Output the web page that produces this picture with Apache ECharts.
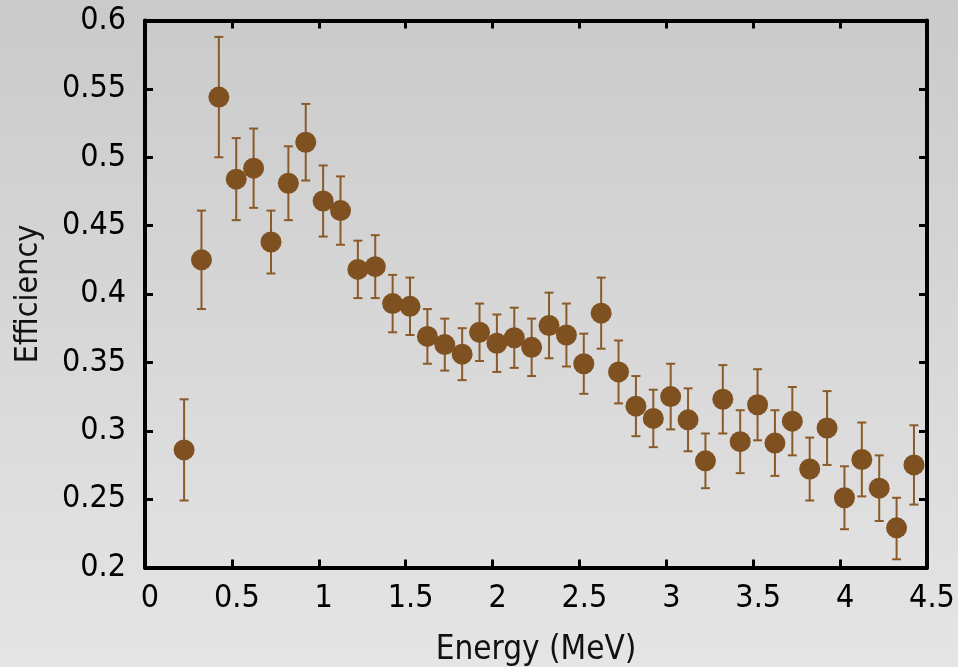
<!DOCTYPE html>
<html>
<head>
<meta charset="utf-8">
<script src="https://cdn.jsdelivr.net/npm/echarts@6/dist/echarts.min.js"></script>
<style>
html,body{margin:0;padding:0;}
#chart{width:958px;height:667px;}
</style>
</head>
<body>
<div id="chart"></div>
<script>
var energy = [0.225,0.325,0.425,0.525,0.625,0.725,0.825,0.925,1.025,1.125,1.225,1.325,1.425,1.525,1.625,1.725,1.825,1.925,2.025,2.125,2.225,2.325,2.425,2.525,2.625,2.725,2.825,2.925,3.025,3.125,3.225,3.325,3.425,3.525,3.625,3.725,3.825,3.925,4.025,4.125,4.225,4.325,4.425];
var efficiency = [0.286,0.425,0.544,0.484,0.492,0.438,0.481,0.511,0.468,0.461,0.418,0.420,0.393,0.391,0.369,0.363,0.356,0.372,0.364,0.368,0.361,0.377,0.370,0.349,0.386,0.343,0.318,0.309,0.325,0.308,0.278,0.323,0.292,0.319,0.291,0.307,0.272,0.302,0.251,0.279,0.258,0.229,0.275];
var errLow = [0.249,0.389,0.500,0.454,0.463,0.415,0.454,0.483,0.442,0.436,0.397,0.397,0.372,0.370,0.349,0.344,0.337,0.351,0.343,0.346,0.340,0.353,0.347,0.327,0.360,0.320,0.296,0.288,0.301,0.285,0.258,0.298,0.269,0.293,0.267,0.282,0.249,0.275,0.228,0.252,0.234,0.206,0.246];
var errHigh = [0.323,0.461,0.588,0.514,0.521,0.461,0.508,0.539,0.494,0.486,0.439,0.443,0.414,0.412,0.389,0.382,0.375,0.393,0.385,0.390,0.382,0.401,0.393,0.371,0.412,0.366,0.340,0.330,0.349,0.331,0.298,0.348,0.315,0.345,0.315,0.332,0.295,0.329,0.274,0.306,0.282,0.251,0.304];
var xTicks = {min:0, max:4.5, interval:0.5};
var yTicks = {min:0.2, max:0.6, interval:0.05};

var FONT = '"DejaVu Sans Condensed", "DejaVu Sans", sans-serif';
var brown = '#7f5120';
var barColor = '#8a5a28';

var pts = energy.map(function(e,i){return [e, efficiency[i]];});
var errs = energy.map(function(e,i){return [e, errLow[i], errHigh[i]];});

var axisLineStyle = {color:'#000', width:4};
function xAx(pos, show){
  return {type:'value', position:pos, min:xTicks.min, max:xTicks.max, interval:xTicks.interval,
    axisLine:{show:true, onZero:false, lineStyle:axisLineStyle},
    axisTick:{show:true, inside:true, length:8, lineStyle:{color:'#000', width:3}},
    axisLabel:{show:show, color:'#000', fontFamily:FONT, fontSize:32, margin:15, padding:[0,0,0,10]},
    splitLine:{show:false}};
}
function yAx(pos, show){
  return {type:'value', position:pos, min:yTicks.min, max:yTicks.max, interval:yTicks.interval,
    axisLine:{show:true, onZero:false, lineStyle:axisLineStyle},
    axisTick:{show:true, inside:true, length:8, lineStyle:{color:'#000', width:3}},
    axisLabel:{show:show, color:'#000', fontFamily:FONT, fontSize:32, margin:19},
    splitLine:{show:false}};
}
var xb = xAx('bottom', true);
xb.name = 'Energy (MeV)'; xb.nameLocation = 'middle'; xb.nameGap = 66;
xb.nameTextStyle = {color:'#111', fontFamily:FONT, fontSize:33};
var yl = yAx('left', true);
yl.name = 'Efficiency'; yl.nameLocation = 'middle'; yl.nameGap = 100;
yl.nameTextStyle = {color:'#111', fontFamily:FONT, fontSize:32};

var chart = echarts.init(document.getElementById('chart'));
chart.setOption({
  animation:false,
  backgroundColor:{type:'linear', x:0, y:0, x2:0, y2:1, colorStops:[{offset:0,color:'#cacaca'},{offset:1,color:'#e5e5e5'}]},
  grid:{left:145, right:31, top:20.5, bottom:99.5, containLabel:false, outerBoundsMode:'none'},
  xAxis:[xb, xAx('top', false)],
  yAxis:[yl, yAx('right', false)],
  series:[
    {type:'custom', xAxisIndex:0, yAxisIndex:0, data:errs, z:2,
     renderItem:function(params, api){
       var x = api.value(0);
       var lo = api.coord([x, api.value(1)]);
       var hi = api.coord([x, api.value(2)]);
       var hw = 4.5;
       var st = {stroke:barColor, lineWidth:2};
       return {type:'group', children:[
         {type:'line', shape:{x1:lo[0], y1:lo[1], x2:hi[0], y2:hi[1]}, style:st},
         {type:'line', shape:{x1:lo[0]-hw, y1:lo[1], x2:lo[0]+hw, y2:lo[1]}, style:st},
         {type:'line', shape:{x1:hi[0]-hw, y1:hi[1], x2:hi[0]+hw, y2:hi[1]}, style:st}
       ]};
     }},
    {type:'scatter', xAxisIndex:0, yAxisIndex:0, data:pts, symbol:'circle', symbolSize:21, z:3,
     itemStyle:{color:brown, opacity:1}}
  ]
});
</script>
</body>
</html>
